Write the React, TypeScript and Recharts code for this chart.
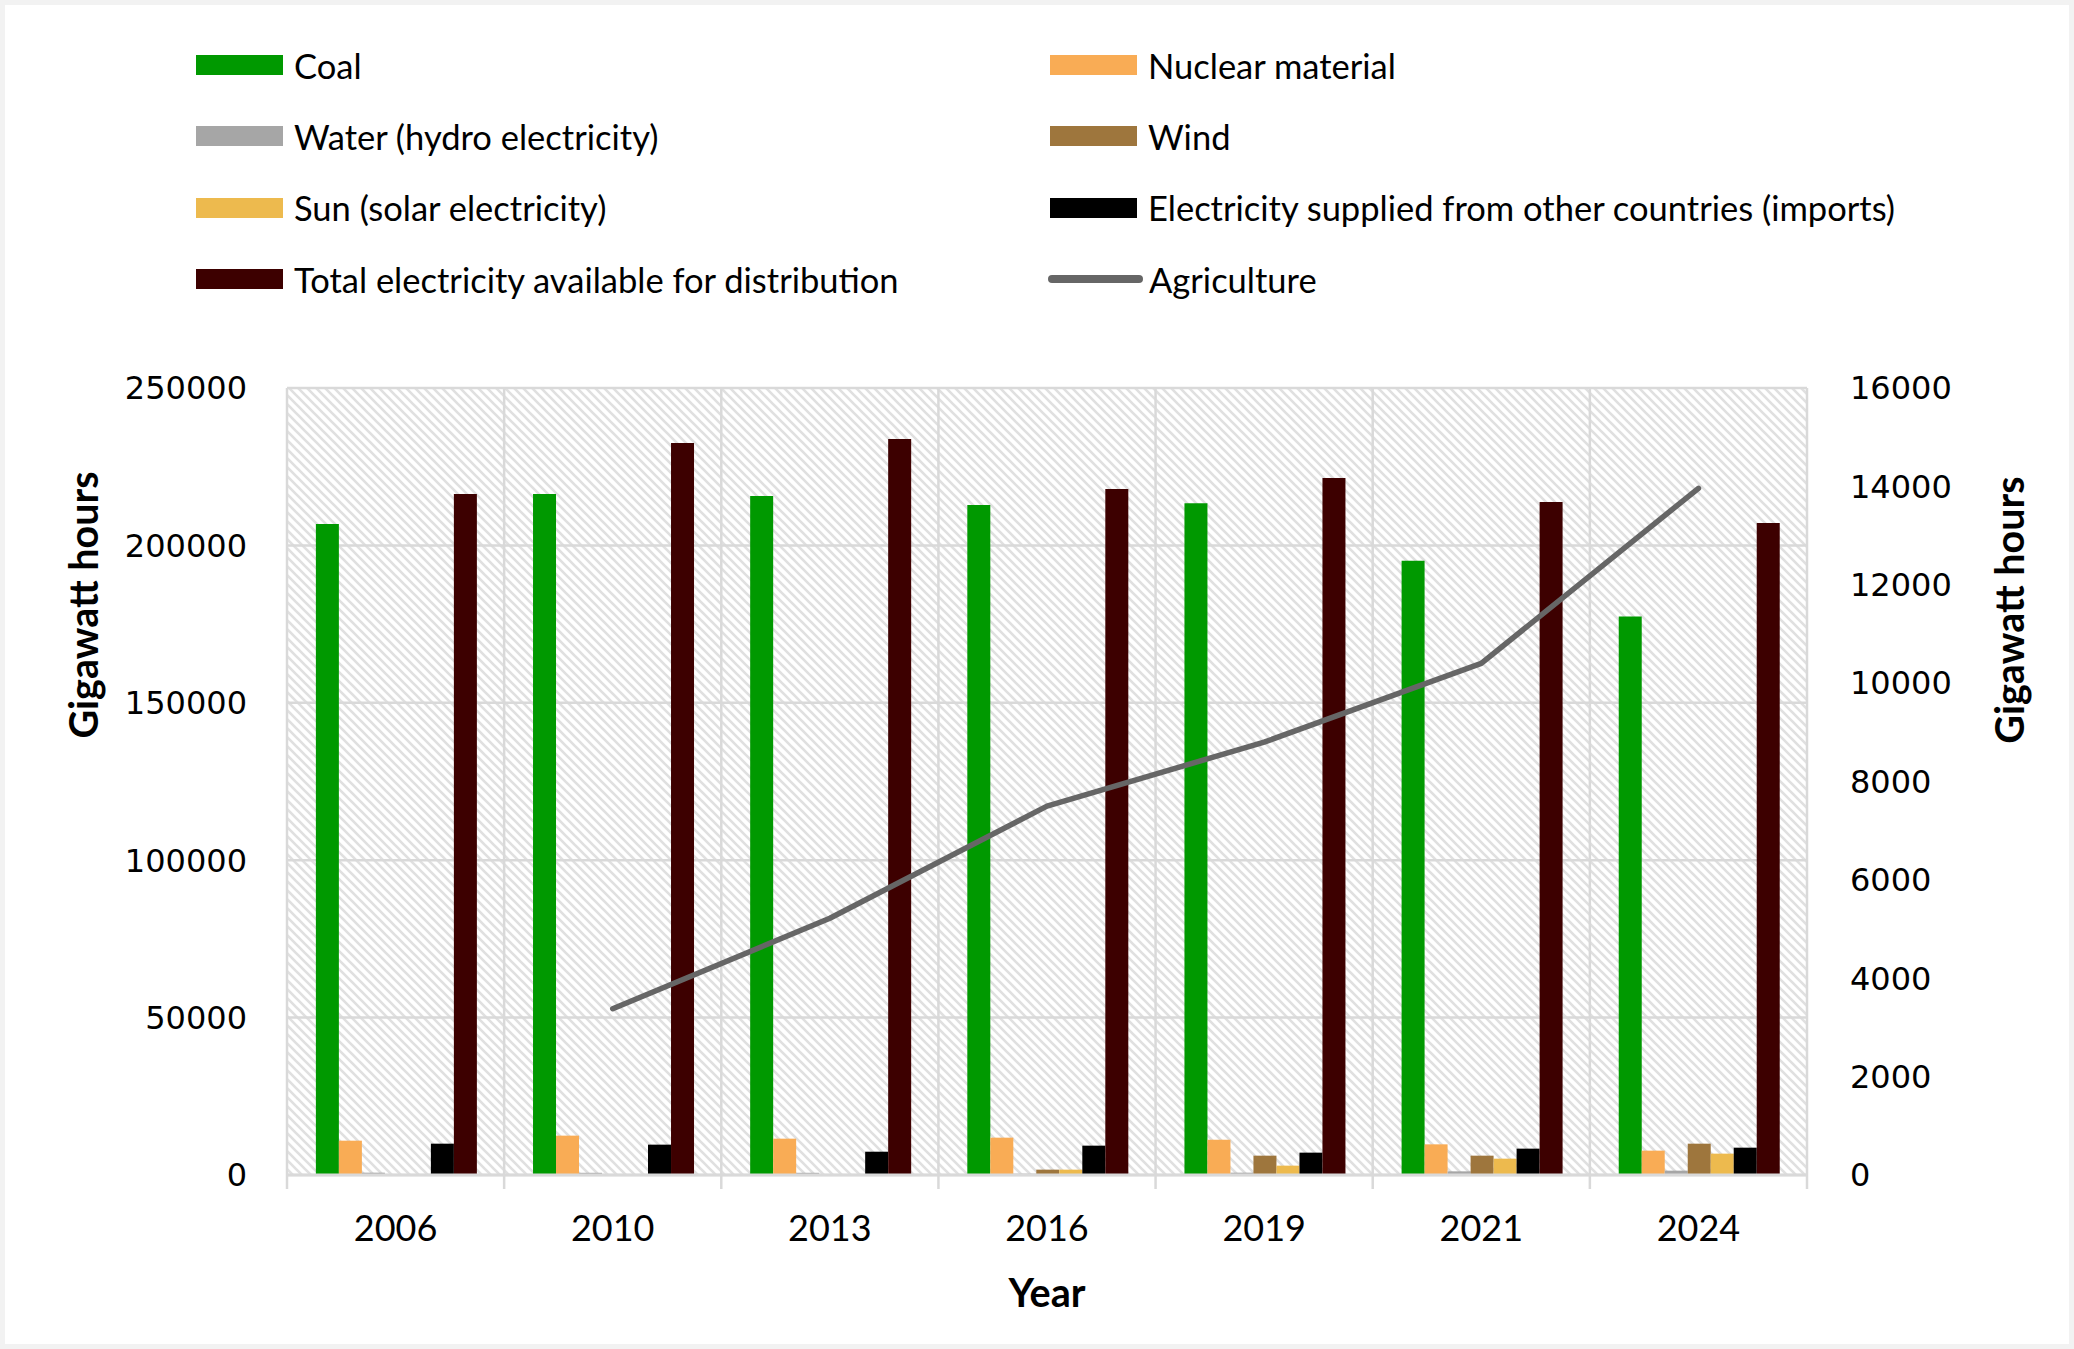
import React from "react";
import { ComposedChart, Bar, Line, XAxis, YAxis, CartesianGrid, Legend, Label } from "recharts";

// values (gigawatt hours)
const years = ["2006", "2010", "2013", "2016", "2019", "2021", "2024"];
const coal = [206800, 216300, 215700, 212800, 213400, 195100, 177400];
const nuclear = [10900, 12500, 11540, 11860, 11200, 9740, 7730];
const water = [740, 700, 700, 400, 740, 1160, 1380];
const wind = [null, null, null, 1700, 6140, 6140, 9950];
const sun = [null, null, null, 1700, 2970, 5190, 6780];
const imports = [9950, 9640, 7400, 9320, 7100, 8370, 8680];
const total = [216300, 232500, 233800, 217900, 221400, 213800, 207100];
const agriculture = [null, 3380, 5220, 7500, 8800, 10400, 13960];

const leftTicks = [0, 50000, 100000, 150000, 200000, 250000];
const rightTicks = [0, 2000, 4000, 6000, 8000, 10000, 12000, 14000, 16000];

const data = years.map((year, i) => ({
  year,
  coal: coal[i],
  nuclear: nuclear[i],
  water: water[i],
  wind: wind[i],
  sun: sun[i],
  imports: imports[i],
  total: total[i],
  agriculture: agriculture[i],
}));

const bars = [
  { key: "coal", name: "Coal", color: "#009900" },
  { key: "nuclear", name: "Nuclear material", color: "#F9AC55" },
  { key: "water", name: "Water (hydro electricity)", color: "#A6A6A6" },
  { key: "wind", name: "Wind", color: "#9E763D" },
  { key: "sun", name: "Sun (solar electricity)", color: "#EDBA4E" },
  { key: "imports", name: "Electricity supplied from other countries (imports)", color: "#000000" },
  { key: "total", name: "Total electricity available for distribution", color: "#3D0000" },
];
const lineColor = "#666666";

const FONT = "Lato, 'Open Sans', sans-serif";
const TICK_FONT = "'DejaVu Sans', sans-serif";
const GRID = "#d9d9d9";
const TICK_MARGIN = 40;

const legendItems = [...bars.map((b) => ({ ...b, line: false })), { key: "agriculture", name: "Agriculture", color: lineColor, line: true }];

const renderLegend = () => (
  <div style={{ position: "relative", width: 2064, height: 383, fontFamily: FONT, fontSize: 34.5, color: "#000" }}>
    {legendItems.map((it, i) => {
      const col = i % 2;
      const row = Math.floor(i / 2);
      return (
        <div
          key={it.key}
          style={{
            position: "absolute",
            left: col ? 1043 : 189,
            top: 60 + row * 71.4 - 22,
            height: 44,
            display: "flex",
            alignItems: "center",
            whiteSpace: "nowrap",
          }}
        >
          {it.line ? (
            <div style={{ width: 95, height: 8, borderRadius: 4, background: it.color, marginRight: 6 }} />
          ) : (
            <div style={{ width: 87, height: 20, background: it.color, marginRight: 11, marginLeft: 2 }} />
          )}
          <span>{it.name}</span>
        </div>
      );
    })}
  </div>
);

const titleStyle = { fontFamily: FONT, fontSize: 39.5, fontWeight: 700, fill: "#000" };

const leftTitle = (props: any) => {
  const { x, y } = props.viewBox;
  const cx = x + 77;
  const cy = y + 217;
  return (
    <text x={cx} y={cy} transform={`rotate(-90, ${cx}, ${cy})`} textAnchor="middle" dominantBaseline="central" style={titleStyle}>
      Gigawatt hours
    </text>
  );
};

const rightTitle = (props: any) => {
  const { x, y } = props.viewBox;
  const cx = x + 201;
  const cy = y + 222;
  return (
    <text x={cx} y={cy} transform={`rotate(-90, ${cx}, ${cy})`} textAnchor="middle" dominantBaseline="central" style={titleStyle}>
      Gigawatt hours
    </text>
  );
};

// category label plus the small tick marks on the category boundaries
const YearTick = (props: any) => {
  const { x, y, payload, width, visibleTicksCount, index } = props;
  const half = width / visibleTicksCount / 2;
  const top = y - TICK_MARGIN;
  return (
    <g>
      <line x1={x - half} x2={x - half} y1={top} y2={top + 14} stroke={GRID} strokeWidth={2.5} />
      {index === visibleTicksCount - 1 && (
        <line x1={x + half} x2={x + half} y1={top} y2={top + 14} stroke={GRID} strokeWidth={2.5} />
      )}
      <text x={x} y={y} dy="0.71em" textAnchor="middle" style={{ fontFamily: FONT, fontSize: 36, fill: "#000" }}>
        {payload.value}
      </text>
    </g>
  );
};

const boundaryLines = ({ offset }: any) =>
  years.concat([""]).map((_, i) => offset.left + (i * offset.width) / years.length);

export default function App() {
  return (
    <div style={{ position: "relative", width: 2074, height: 1349, background: "#f2f2f2" }}>
      <style>{`body{margin:0}`}</style>
      <div style={{ position: "absolute", left: 5, top: 5, width: 2064, height: 1339, background: "#ffffff" }} />
      <div style={{ position: "absolute", left: 0, top: 0 }}>
        <ComposedChart
          width={2074}
          height={1349}
          data={data}
          margin={{ top: 5, right: 5, bottom: 34, left: 5 }}
          barCategoryGap="13.3%"
          barGap={0}
        >
          <defs>
            <pattern id="hatch" patternUnits="userSpaceOnUse" width="9" height="9">
              <rect width="9" height="9" fill="#ffffff" />
              <path d="M-2,-2 L11,11 M-2,7 L2,11 M7,-2 L11,2" stroke="#e0e0e0" strokeWidth="2.6" />
            </pattern>
          </defs>
          <Legend verticalAlign="top" content={renderLegend} wrapperStyle={{ left: 5, width: 2064 }} />
          <XAxis
            xAxisId="cat"
            dataKey="year"
            height={140}
            tickSize={0}
            tickMargin={TICK_MARGIN}
            tickLine={false}
            interval={0}
            axisLine={{ stroke: GRID, strokeWidth: 3 }}
            tick={<YearTick />}
          >
            <Label value="Year" position="insideBottom" offset={8} style={titleStyle} />
          </XAxis>
          <YAxis
            yAxisId="left"
            width={282}
            domain={[0, 250000]}
            ticks={leftTicks}
            tickSize={0}
            tickMargin={40}
            axisLine={false}
            tickLine={false}
            tick={{ fontFamily: TICK_FONT, fontSize: 32, fill: "#000" }}
          >
            <Label content={leftTitle} />
          </YAxis>
          <YAxis
            yAxisId="right"
            orientation="right"
            width={262}
            domain={[0, 16000]}
            ticks={rightTicks}
            tickSize={0}
            tickMargin={43}
            axisLine={false}
            tickLine={false}
            tick={{ fontFamily: TICK_FONT, fontSize: 32, fill: "#000", textAnchor: "start" }}
          >
            <Label content={rightTitle} />
          </YAxis>
          <CartesianGrid
            xAxisId="cat"
            yAxisId="left"
            stroke={GRID}
            strokeWidth={2.5}
            fill="url(#hatch)"
            fillOpacity={1}
            verticalCoordinatesGenerator={boundaryLines}
          />
          {bars.map((b) => (
            <Bar
              key={b.key}
              dataKey={b.key}
              name={b.name}
              xAxisId="cat"
              yAxisId="left"
              fill={b.color}
              isAnimationActive={false}
            />
          ))}
          <Line
            dataKey="agriculture"
            name="Agriculture"
            xAxisId="cat"
            yAxisId="right"
            stroke={lineColor}
            strokeWidth={5.5}
            strokeLinecap="round"
            strokeLinejoin="round"
            dot={false}
            activeDot={false}
            isAnimationActive={false}
          />
        </ComposedChart>
      </div>
    </div>
  );
}
